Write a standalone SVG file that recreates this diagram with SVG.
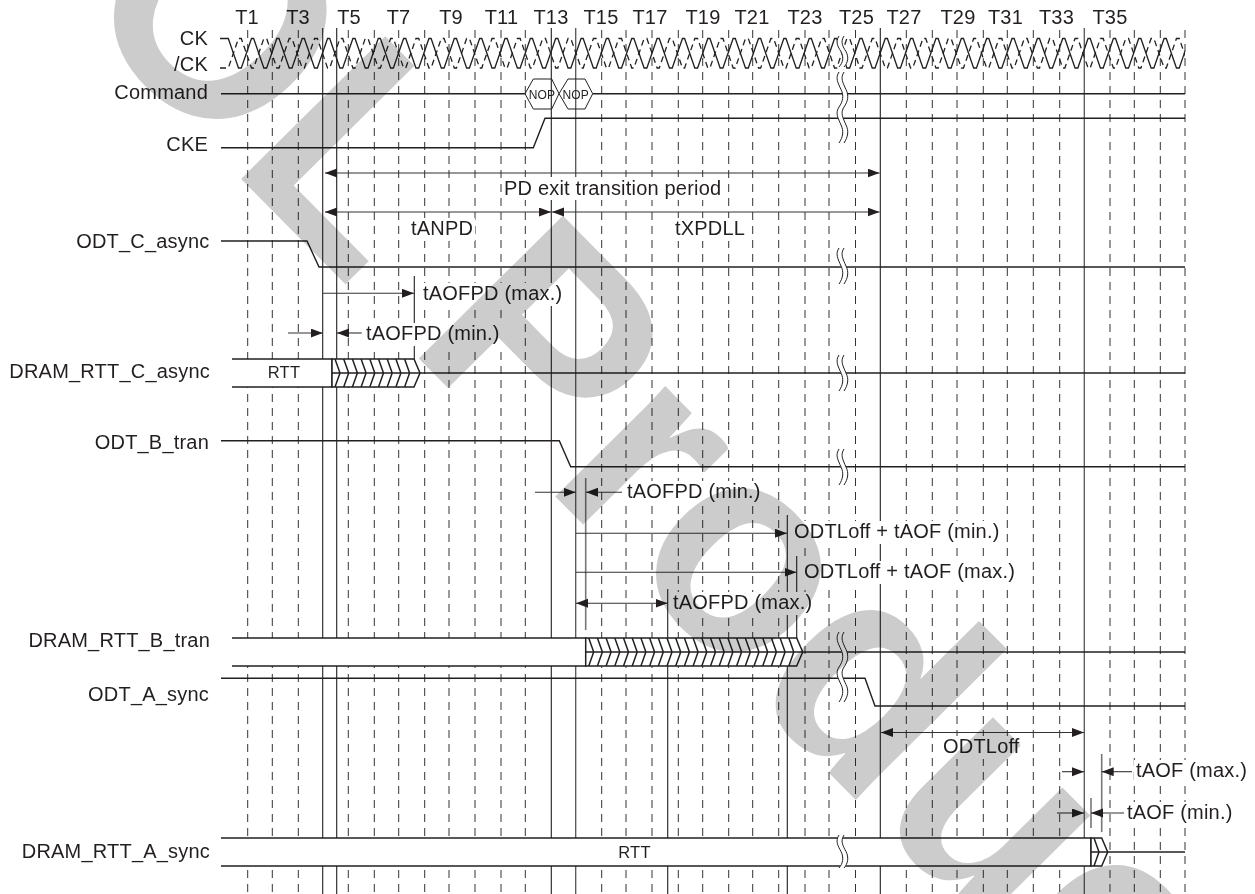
<svg xmlns="http://www.w3.org/2000/svg" width="1255" height="894" viewBox="0 0 1255 894">
<style>
text{font-family:"Liberation Sans",Arial,sans-serif;font-size:20px;letter-spacing:.2px;fill:#231f20}
.end{text-anchor:end}
.mid{text-anchor:middle}
.small{font-size:16.5px;letter-spacing:.2px}
.nop{font-size:12px;letter-spacing:.2px;text-anchor:middle}
.wm{font-weight:700;font-size:289px;letter-spacing:.5px;fill:#cccccc;mix-blend-mode:multiply}
.dash{fill:none;stroke:#333;stroke-width:1;stroke-dasharray:8 6}
.solid{fill:none;stroke:#231f20;stroke-width:1.1}
.soft{fill:none;stroke:#555;stroke-width:1.3}
.pale{fill:none;stroke:#777;stroke-width:1.6}
.sig{fill:none;stroke:#231f20;stroke-width:1.4}
.bar{fill:#fff;stroke:#231f20;stroke-width:1.4}
.hatch{fill:#fff;stroke:#231f20;stroke-width:1.5}
.hex{fill:none;stroke:#231f20;stroke-width:1}
.arr{fill:none;stroke:#333;stroke-width:1.1}
.box{fill:#fff;stroke:none}
.gap{fill:none;stroke:#fff;stroke-width:5}
.wig{fill:none;stroke:#231f20;stroke-width:1}
.clk{fill:none;stroke:#231f20;stroke-width:1.3}
.clkd{fill:none;stroke:#231f20;stroke-width:1.3;stroke-dasharray:6 4}
</style>
<defs>
<marker id="ah" markerUnits="userSpaceOnUse" markerWidth="13" markerHeight="10" refX="12" refY="4.5" orient="auto-start-reverse"><path d="M0,0L12,4.5L0,9Z" fill="#231f20"/></marker>
<clipPath id="ckclip"><rect x="215" y="30" width="970" height="46"/></clipPath>
<path id="wave" d="M220,38.5H228.3l10.2 29.5h2.8l10.2-29.5h2.15l10.2 29.5h2.8l10.2-29.5h2.15l10.2 29.5h2.8l10.2-29.5h2.15l10.2 29.5h2.8l10.2-29.5h2.15l10.2 29.5h2.8l10.2-29.5h2.15l10.2 29.5h2.8l10.2-29.5h2.15l10.2 29.5h2.8l10.2-29.5h2.15l10.2 29.5h2.8l10.2-29.5h2.15l10.2 29.5h2.8l10.2-29.5h2.15l10.2 29.5h2.8l10.2-29.5h2.15l10.2 29.5h2.8l10.2-29.5h2.15l10.2 29.5h2.8l10.2-29.5h2.15l10.2 29.5h2.8l10.2-29.5h2.15l10.2 29.5h2.8l10.2-29.5h2.15l10.2 29.5h2.8l10.2-29.5h2.15l10.2 29.5h2.8l10.2-29.5h2.15l10.2 29.5h2.8l10.2-29.5h2.15l10.2 29.5h2.8l10.2-29.5h2.15l10.2 29.5h2.8l10.2-29.5h2.15l10.2 29.5h2.8l10.2-29.5h2.15l10.2 29.5h2.8l10.2-29.5h2.15l10.2 29.5h2.8l10.2-29.5h2.15l10.2 29.5h2.8l10.2-29.5h2.15l10.2 29.5h2.8l10.2-29.5h2.15l10.2 29.5h2.8l10.2-29.5h2.15l10.2 29.5h2.8l10.2-29.5h2.15l10.2 29.5h2.8l10.2-29.5h2.15l10.2 29.5h2.8l10.2-29.5h2.15l10.2 29.5h2.8l10.2-29.5h2.15l10.2 29.5h2.8l10.2-29.5h2.15l10.2 29.5h2.8l10.2-29.5h2.15l10.2 29.5h2.8l10.2-29.5h2.15l10.2 29.5h2.8l10.2-29.5h2.15l10.2 29.5h2.8l10.2-29.5h2.15l10.2 29.5h2.8l10.2-29.5h2.15l10.2 29.5h2.8l10.2-29.5h2.15l10.2 29.5h2.8l10.2-29.5h2.15l10.2 29.5h2.8l10.2-29.5h2.15l10.2 29.5h2.8l10.2-29.5h2.15l10.2 29.5h2.8l10.2-29.5h2.15l10.2 29.5h2.8l10.2-29.5h2.15l10.2 29.5h2.8l10.2-29.5h2.15l10.2 29.5h2.8l10.2-29.5h2.15l10.2 29.5h2.8l5.75-16.6"/>
</defs>
<rect width="1255" height="894" fill="#fff"/>
<g id="grid">
<path class="dash" d="M247.7,30V894M272.3,30V894M298.3,30V894M348.3,30V894M374.3,30V894M398.7,30V894M424.7,30V894M449,30V894M475,30V894M501,30V894M525.3,30V894M601.7,30V894M626,30V894M652,30V894M678.3,30V894M702.7,30V894M728.7,30V894M752.7,30V894M778.7,30V894M805,30V894M829,30V894M855.5,30V894M906.3,30V894M932.3,30V894M957,30V894M983.3,30V894M1007.3,30V894M1033.3,30V894M1059.7,30V894M1110,30V894M1134.3,30V894M1160.3,30V894M1185,30V894"/>
<path class="solid" d="M322.7,28V894M336.7,28V894M551.3,28V894M880.3,28V894M414.3,276V360M667.7,589V894M787.3,515V894M796.7,556V640"/>
<path class="soft" d="M575.7,28V894M1084.3,28V894"/>
<path class="pale" d="M585.7,478V630M1101.7,754V832M1091,798V828"/>
</g>
<g id="col-labels">
<text class="mid" x="247" y="24">T1</text><text class="mid" x="298" y="24">T3</text><text class="mid" x="349" y="24">T5</text><text class="mid" x="398.5" y="24">T7</text><text class="mid" x="451" y="24">T9</text><text class="mid" x="501.5" y="24">T11</text><text class="mid" x="551" y="24">T13</text><text class="mid" x="601" y="24">T15</text><text class="mid" x="650" y="24">T17</text><text class="mid" x="703" y="24">T19</text><text class="mid" x="752" y="24">T21</text><text class="mid" x="805" y="24">T23</text><text class="mid" x="856.5" y="24">T25</text><text class="mid" x="904" y="24">T27</text><text class="mid" x="958" y="24">T29</text><text class="mid" x="1005.5" y="24">T31</text><text class="mid" x="1056.5" y="24">T33</text><text class="mid" x="1110" y="24">T35</text>
</g>
<g id="ck">
<text class="end" x="208" y="45">CK</text><text class="end" x="208" y="71">/CK</text>
<g clip-path="url(#ckclip)">
<use href="#wave" class="clk"/>
<use href="#wave" class="clkd" transform="translate(0,106.5) scale(1,-1)"/>
</g>
</g>
<g id="command">
<text class="end" x="208" y="98.5">Command</text>
<path class="sig" d="M221,93.7H525M592.7,93.7H1185"/>
<path class="hex" d="M525,93.7L533.3,79H551.7L559,93.7L551.7,109H533.3Z"/>
<path class="hex" d="M559,93.7L568,79H585L592.7,93.7L585,109H568Z"/>
<text class="nop" x="542" y="99">NOP</text><text class="nop" x="575.7" y="99">NOP</text>
</g>
<g id="cke">
<text class="end" x="208" y="151">CKE</text>
<path class="sig" d="M221,147.7H533.3L545,118.3H1185"/>
</g>
<g id="odt-c-async">
<text class="end" x="209.5" y="247.5">ODT_C_async</text>
<path class="sig" d="M221,241H307L319,267H1185"/>
</g>
<g id="dram-rtt-c-async">
<text class="end" x="210" y="378">DRAM_RTT_C_async</text>
<path class="bar" d="M232,359H332V387H232"/>
<g transform="translate(332,359)"><path class="hatch" d="M0,0H82L88,14L82,28H0Z"/><path class="hatch" style="fill:none" d="M0,14H88M3,0l5,14l-5,14m8.7,-28l5,14l-5,14m8.7,-28l5,14l-5,14m8.7,-28l5,14l-5,14m8.7,-28l5,14l-5,14m8.7,-28l5,14l-5,14m8.7,-28l5,14l-5,14m8.7,-28l5,14l-5,14m8.7,-28l5,14l-5,14"/></g>
<path class="sig" d="M420,373H1185"/>
<text class="small mid" x="284" y="378">RTT</text>
</g>
<g id="odt-b-tran">
<text class="end" x="209" y="449">ODT_B_tran</text>
<path class="sig" d="M221,440.7H559.3L570.7,466.7H1185"/>
</g>
<g id="dram-rtt-b-tran">
<text class="end" x="210" y="647">DRAM_RTT_B_tran</text>
<path class="bar" d="M232,638H585.7V666H232"/>
<g transform="translate(585.7,638)"><path class="hatch" d="M0,0H211L217,14L211,28H0Z"/><path class="hatch" style="fill:none" d="M0,14H217M3,0l5,14l-5,14m8.7,-28l5,14l-5,14m8.7,-28l5,14l-5,14m8.7,-28l5,14l-5,14m8.7,-28l5,14l-5,14m8.7,-28l5,14l-5,14m8.7,-28l5,14l-5,14m8.7,-28l5,14l-5,14m8.7,-28l5,14l-5,14m8.7,-28l5,14l-5,14m8.7,-28l5,14l-5,14m8.7,-28l5,14l-5,14m8.7,-28l5,14l-5,14m8.7,-28l5,14l-5,14m8.7,-28l5,14l-5,14m8.7,-28l5,14l-5,14m8.7,-28l5,14l-5,14m8.7,-28l5,14l-5,14m8.7,-28l5,14l-5,14m8.7,-28l5,14l-5,14m8.7,-28l5,14l-5,14m8.7,-28l5,14l-5,14m8.7,-28l5,14l-5,14m8.7,-28l5,14l-5,14"/></g>
<path class="sig" d="M802.7,652H1185"/>
</g>
<g id="odt-a-sync">
<text class="end" x="209" y="701">ODT_A_sync</text>
<path class="sig" d="M221,678.3H865L875,706H1185"/>
</g>
<g id="dram-rtt-a-sync">
<text class="end" x="210" y="858">DRAM_RTT_A_sync</text>
<path class="bar" d="M221,838H1091V866H221"/>
<g transform="translate(1091,838)"><path class="hatch" d="M0,0H10.7L16.7,14L10.7,28H0Z"/><path class="hatch" style="fill:none" d="M0,14H16.7M3,0l5,14l-5,14"/></g>
<path class="sig" d="M1107.7,852H1185"/>
<text class="small mid" x="634.5" y="858">RTT</text>
</g>
<g id="timing-labels">
<rect class="box" x="503" y="177" width="221" height="23"/><text x="504" y="194.5">PD exit transition period</text>
<rect class="box" x="409" y="218" width="66" height="23"/><text x="411" y="235">tANPD</text>
<rect class="box" x="673" y="218" width="73" height="23"/><text x="675" y="235">tXPDLL</text>
<rect class="box" x="421" y="283" width="143" height="23"/><text x="423" y="300">tAOFPD (max.)</text>
<rect class="box" x="364" y="323" width="138" height="23"/><text x="366" y="340">tAOFPD (min.)</text>
<rect class="box" x="625" y="481" width="137" height="23"/><text x="627" y="498">tAOFPD (min.)</text>
<rect class="box" x="792" y="521" width="210" height="23"/><text x="794" y="538">ODTLoff + tAOF (min.)</text>
<rect class="box" x="802" y="561" width="216" height="23"/><text x="804" y="577.5">ODTLoff + tAOF (max.)</text>
<rect class="box" x="671" y="592" width="142" height="23"/><text x="673" y="609">tAOFPD (max.)</text>
<rect class="box" x="941" y="736" width="80" height="23"/><text x="943" y="753">ODTLoff</text>
<rect class="box" x="1134" y="760" width="113" height="23"/><text x="1136" y="777">tAOF (max.)</text>
<rect class="box" x="1125" y="802" width="109" height="23"/><text x="1127" y="819">tAOF (min.)</text>
</g>
<g id="connectors">
<path class="arr" d="M325,173H879.5" marker-start="url(#ah)" marker-end="url(#ah)"/>
<path class="arr" d="M325,212H551" marker-start="url(#ah)" marker-end="url(#ah)"/>
<path class="arr" d="M552,212H879.5" marker-start="url(#ah)" marker-end="url(#ah)"/>
<path class="arr" d="M323,293.3H414" marker-end="url(#ah)"/>
<path class="arr" d="M288,333H322.7" marker-end="url(#ah)"/>
<path class="arr" d="M361.7,333H337" marker-end="url(#ah)"/>
<path class="arr" d="M535,492.3H575.7" marker-end="url(#ah)"/>
<path class="arr" d="M622,492.3H586" marker-end="url(#ah)"/>
<path class="arr" d="M576,533.3H787" marker-end="url(#ah)"/>
<path class="arr" d="M576,572.3H796.5" marker-end="url(#ah)"/>
<path class="arr" d="M576,603.3H667.5" marker-start="url(#ah)" marker-end="url(#ah)"/>
<path class="arr" d="M881,732.5H1084" marker-start="url(#ah)" marker-end="url(#ah)"/>
<path class="arr" d="M1062,771.7H1084" marker-end="url(#ah)"/>
<path class="arr" d="M1132,771.7H1101.7" marker-end="url(#ah)"/>
<path class="arr" d="M1057,813H1084" marker-end="url(#ah)"/>
<path class="arr" d="M1124,813H1091" marker-end="url(#ah)"/>
</g>
<g id="breaks">
<path class="gap" d="M841.5,36c-4,6 -1,11 2,15.5c3,6 2,11 -2,15.5"/>
<path class="wig" d="M839,36c-4,6 -1,11 2,15.5c3,6 2,11 -2,15.5M844,36c-4,6 -1,11 2,15.5c3,6 2,11 -2,15.5"/>
<path class="gap" d="M841.5,72c-4,6 -1,11 2,17.5c3,6 2,12 -2,17.5c-4,6 -1,11 2,18c3,6 2,12 -2,18"/>
<path class="wig" d="M839,72c-4,6 -1,11 2,17.5c3,6 2,12 -2,17.5c-4,6 -1,11 2,18c3,6 2,12 -2,18M844,72c-4,6 -1,11 2,17.5c3,6 2,12 -2,17.5c-4,6 -1,11 2,18c3,6 2,12 -2,18"/>
<path class="gap" d="M841.5,248c-4,6 -1,11 2,18c3,6 2,12 -2,18"/>
<path class="wig" d="M839,248c-4,6 -1,11 2,18c3,6 2,12 -2,18M844,248c-4,6 -1,11 2,18c3,6 2,12 -2,18"/>
<path class="gap" d="M841.5,355c-4,6 -1,11 2,18c3,6 2,12 -2,18"/>
<path class="wig" d="M839,355c-4,6 -1,11 2,18c3,6 2,12 -2,18M844,355c-4,6 -1,11 2,18c3,6 2,12 -2,18"/>
<path class="gap" d="M841.5,449c-4,6 -1,11 2,18c3,6 2,12 -2,18"/>
<path class="wig" d="M839,449c-4,6 -1,11 2,18c3,6 2,12 -2,18M844,449c-4,6 -1,11 2,18c3,6 2,12 -2,18"/>
<path class="gap" d="M841.5,632c-4,6 -1,11 2,17.5c3,6 2,12 -2,17.5c-4,6 -1,11 2,17.5c3,6 2,12 -2,17.5"/>
<path class="wig" d="M839,632c-4,6 -1,11 2,17.5c3,6 2,12 -2,17.5c-4,6 -1,11 2,17.5c3,6 2,12 -2,17.5M844,632c-4,6 -1,11 2,17.5c3,6 2,12 -2,17.5c-4,6 -1,11 2,17.5c3,6 2,12 -2,17.5"/>
<path class="gap" d="M841.5,835c-4,6 -1,11 2,16.5c3,6 2,12 -2,16.5"/>
<path class="wig" d="M839,835c-4,6 -1,11 2,16.5c3,6 2,12 -2,16.5M844,835c-4,6 -1,11 2,16.5c3,6 2,12 -2,16.5"/>
</g>
<text class="wm" transform="translate(69,5) rotate(45.3) scale(1,1.02)">OL Product</text>
</svg>
